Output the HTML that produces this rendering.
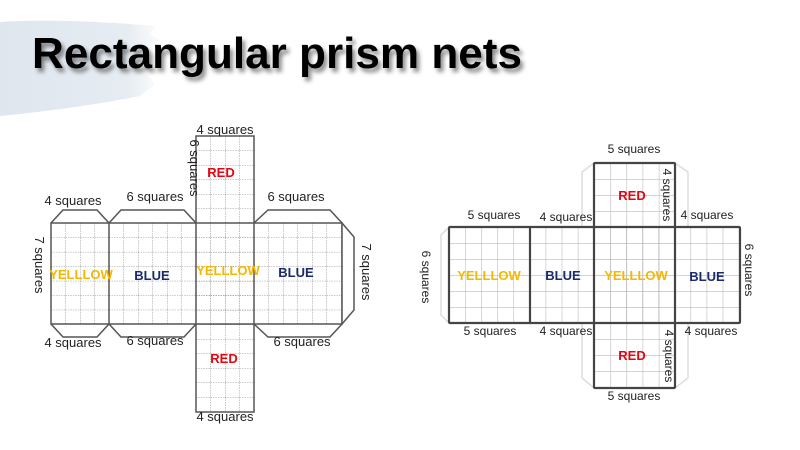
<!DOCTYPE html>
<html><head><meta charset="utf-8"><style>
html,body{margin:0;padding:0;background:#fff;width:800px;height:450px;overflow:hidden}
svg{display:block}
</style></head><body>
<svg width="800" height="450" viewBox="0 0 800 450" xmlns="http://www.w3.org/2000/svg" font-family="Liberation Sans, sans-serif">
<defs>
<linearGradient id="br" x1="0" x2="1" y1="0" y2="0">
<stop offset="0" stop-color="#dfe6ee"/><stop offset="0.8" stop-color="#e6ecf2"/><stop offset="1" stop-color="#eef2f6" stop-opacity="0.3"/>
</linearGradient>
<pattern id="g1" width="14.5" height="14.45" patternUnits="userSpaceOnUse" x="51" y="223">
<path d="M0 0H14.5M0 0V14.45" stroke="#777" stroke-width="0.8" stroke-dasharray="1.5 1" fill="none"/>
</pattern>
<pattern id="g1r" width="14.5" height="14.5" patternUnits="userSpaceOnUse" x="196" y="136">
<path d="M0 0H14.5M0 0V14.5" stroke="#777" stroke-width="0.8" stroke-dasharray="1.5 1" fill="none"/>
</pattern>
<pattern id="g2" width="16.1" height="16" patternUnits="userSpaceOnUse" x="449" y="227">
<path d="M0 0H16.1M0 0V16" stroke="#bbb" stroke-width="1.2" fill="none"/>
</pattern>
<pattern id="g2r" width="16.2" height="16" patternUnits="userSpaceOnUse" x="594" y="163">
<path d="M0 0H16.2M0 0V16" stroke="#bbb" stroke-width="1.2" fill="none"/>
</pattern>
<filter id="sh" x="-10%" y="-20%" width="120%" height="150%"><feDropShadow dx="3" dy="4" stdDeviation="2" flood-color="#000" flood-opacity="0.45"/></filter>
</defs>

<path d="M0 22 Q60 18 155 26 L150 34 L160 40 L148 48 L158 60 L146 72 L155 84 L140 96 Q80 108 0 116 Z" fill="url(#br)"/>
<text x="32" y="68" font-size="44" font-weight="bold" fill="#000" filter="url(#sh)" textLength="490" lengthAdjust="spacingAndGlyphs">Rectangular prism nets</text>

<g>
<rect x="51" y="223" width="291" height="101" fill="url(#g1)"/>
<rect x="196" y="136" width="58" height="276" fill="url(#g1r)"/>
<g fill="none" stroke="#555" stroke-width="1.5">
<rect x="51" y="223" width="291" height="101"/>
<rect x="196" y="136" width="58" height="276"/>
<line x1="109" y1="223" x2="109" y2="324"/>
<path d="M51 223L63 210H97L109 223"/>
<path d="M109 223L121 210H184L196 223"/>
<path d="M254 223L268 210H330L342 223"/>
<path d="M342 223L354 237V310L342 324"/>
<path d="M51 324L63 337H97L109 324"/>
<path d="M109 324L121 337H184L196 324"/>
<path d="M254 324L268 337H330L342 324"/>
</g>
<g font-size="13" fill="#222">
<text x="225" y="134" text-anchor="middle">4 squares</text>
<text x="225" y="421" text-anchor="middle">4 squares</text>
<text x="73" y="205" text-anchor="middle">4 squares</text>
<text x="155" y="201" text-anchor="middle">6 squares</text>
<text x="296" y="201" text-anchor="middle">6 squares</text>
<text x="73" y="347" text-anchor="middle">4 squares</text>
<text x="155" y="345" text-anchor="middle">6 squares</text>
<text x="302" y="346" text-anchor="middle">6 squares</text>
<text transform="translate(35,265) rotate(90)" text-anchor="middle">7 squares</text>
<text transform="translate(362,272) rotate(90)" text-anchor="middle">7 squares</text>
<text transform="translate(190,168) rotate(90)" text-anchor="middle">6 squares</text>
</g>
<g font-size="13" font-weight="bold">
<text x="221" y="177" text-anchor="middle" fill="#e30613">RED</text>
<text x="224" y="363" text-anchor="middle" fill="#e30613">RED</text>
<text x="81" y="279" text-anchor="middle" fill="#f5b800">YELLLOW</text>
<text x="228" y="275" text-anchor="middle" fill="#f5b800">YELLLOW</text>
<text x="152" y="280" text-anchor="middle" fill="#1a2a6c">BLUE</text>
<text x="296" y="277" text-anchor="middle" fill="#1a2a6c">BLUE</text>
</g>
</g>

<g>
<g fill="none" stroke="#ddd" stroke-width="1.5">
<path d="M594 163L582 172V227"/><path d="M675 163L688 172V227"/>
<path d="M594 388L582 378V323"/><path d="M675 388L688 378V323"/>
<path d="M449 227L441 235V315L449 323"/>
</g>
<rect x="449" y="227" width="291" height="96" fill="url(#g2)"/>
<rect x="594" y="163" width="81" height="225" fill="url(#g2r)"/>
<g fill="none" stroke="#444" stroke-width="2.2">
<rect x="449" y="227" width="291" height="96" rx="1"/>
<rect x="594" y="163" width="81" height="225" rx="1"/>
<line x1="530" y1="227" x2="530" y2="323"/>
</g>
<g font-size="12" fill="#222">
<text x="634" y="153" text-anchor="middle">5 squares</text>
<text x="494" y="219" text-anchor="middle">5 squares</text>
<text x="566" y="221" text-anchor="middle">4 squares</text>
<text x="707" y="219" text-anchor="middle">4 squares</text>
<text x="490" y="335" text-anchor="middle">5 squares</text>
<text x="566" y="335" text-anchor="middle">4 squares</text>
<text x="711" y="335" text-anchor="middle">4 squares</text>
<text x="634" y="400" text-anchor="middle">5 squares</text>
<text transform="translate(422,277) rotate(90)" text-anchor="middle">6 squares</text>
<text transform="translate(745,270) rotate(90)" text-anchor="middle">6 squares</text>
<text transform="translate(663,195) rotate(90)" text-anchor="middle">4 squares</text>
<text transform="translate(665,356) rotate(90)" text-anchor="middle">4 squares</text>
</g>
<g font-size="13" font-weight="bold">
<text x="632" y="200" text-anchor="middle" fill="#e30613">RED</text>
<text x="632" y="360" text-anchor="middle" fill="#e30613">RED</text>
<text x="489" y="280" text-anchor="middle" fill="#f5b800">YELLLOW</text>
<text x="636" y="280" text-anchor="middle" fill="#f5b800">YELLLOW</text>
<text x="563" y="280" text-anchor="middle" fill="#1a2a6c">BLUE</text>
<text x="707" y="281" text-anchor="middle" fill="#1a2a6c">BLUE</text>
</g>
</g>
</svg>
</body></html>
